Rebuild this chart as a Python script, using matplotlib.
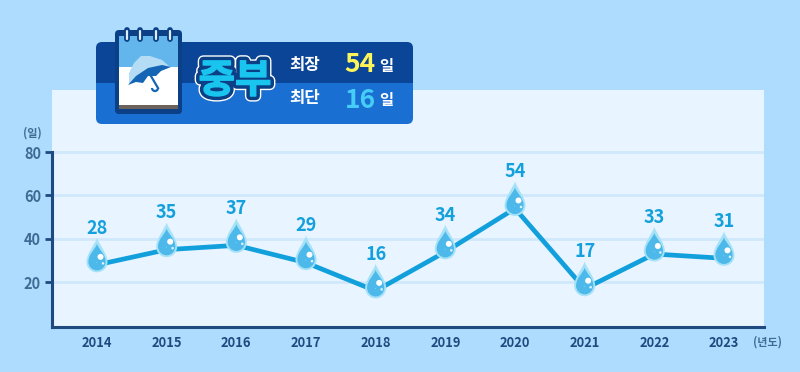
import numpy as np
import matplotlib
matplotlib.use('Agg')
import matplotlib.pyplot as plt
from matplotlib.path import Path
from matplotlib.patches import FancyBboxPatch, Rectangle, Polygon, Arc
from matplotlib.collections import PathCollection
from matplotlib.transforms import IdentityTransform, Affine2D
import matplotlib.patheffects as pe

plt.rcParams['font.family'] = ['Noto Sans CJK KR', 'DejaVu Sans']

years = [2014, 2015, 2016, 2017, 2018, 2019, 2020, 2021, 2022, 2023]
days = [28, 35, 37, 29, 16, 34, 54, 17, 33, 31]
yticks = [20, 40, 60, 80]
title = '중부'
long_label, long_val = '최장', '54'
short_label, short_val = '최단', '16'
unit = '일'
y_unit = '(일)'
x_unit = '(년도)'

W, H = 800, 372
BG = '#aedcff'
PANEL = '#e8f4ff'
GRID = '#cfe8fb'
AXIS = '#1f4a7f'
LINE = '#12a0dc'

fig = plt.figure(figsize=(W / 100, H / 100), dpi=100, facecolor=BG)

ax = fig.add_axes([52 / W, 1 - 327 / H, (764 - 52) / W, (327 - 90) / H], facecolor=PANEL, zorder=1)
ax.set_xlim(2014 - 45 / 69.67, 2023 + 40 / 69.67)
ax.set_ylim(-0.65, 108.6)
ax.spines['top'].set_visible(False)
ax.spines['right'].set_visible(False)
ax.spines['left'].set_color(AXIS)
ax.spines['bottom'].set_color(AXIS)
ax.spines['left'].set_linewidth(2.2)
ax.spines['bottom'].set_linewidth(2.2)
ax.spines['left'].set_bounds(-0.65, 80)
ax.set_yticks(yticks)
ax.set_xticks(years)
ax.set_xticklabels([str(y) for y in years], fontsize=9.3, fontweight='bold', color='#1f4a7f')
ax.set_yticklabels([str(v) for v in yticks], fontsize=10.5, fontweight='bold', color='#3f6a94')
ax.tick_params(axis='x', length=0, pad=6.5)
ax.tick_params(axis='y', length=5, width=2, color=AXIS, pad=3)
ax.grid(axis='y', color=GRID, lw=2)
ax.set_axisbelow(True)

ax.plot(years, days, color=LINE, lw=3.4, zorder=3, solid_joinstyle='round')

# water-drop markers, defined in pixels around each data point
def drop(r=10.5, cy=3.0, tip=27.0):
    k = 0.5523
    verts = [(0, tip), (1.8, tip - 6), (r, cy + 8), (r, cy),
             (r, cy - k * r), (k * r, cy - r), (0, cy - r),
             (-k * r, cy - r), (-r, cy - k * r), (-r, cy),
             (-r, cy + 8), (-1.8, tip - 6), (0, tip), (0, tip)]
    codes = [Path.MOVETO, Path.CURVE4, Path.CURVE4, Path.CURVE4,
             Path.CURVE4, Path.CURVE4, Path.CURVE4,
             Path.CURVE4, Path.CURVE4, Path.CURVE4,
             Path.CURVE4, Path.CURVE4, Path.CURVE4, Path.CLOSEPOLY]
    return Path(verts, codes)

def add_layer(path, color, z):
    offs = np.column_stack([years, days])
    c = PathCollection([path], offsets=offs, offset_transform=ax.transData,
                       transform=IdentityTransform(), facecolors=color, edgecolors='none', zorder=z)
    ax.add_collection(c, autolim=False)

add_layer(drop(10.5, 3, 27), '#a5e2f8', 4)
add_layer(drop(8.6, 3, 21), '#4db8ea', 5)
add_layer(Path.wedge(190, 290, 8).transformed(Affine2D().translate(0, 3)), '#86d4f4', 5.5)
add_layer(Path.circle((3.5, 8), 3.0), '#ffffff', 6)
add_layer(Path.circle((6, 1.5), 1.3), '#d8f3ff', 6)

for x, v in zip(years, days):
    ax.annotate(str(v), (x, v), xytext=(0, 26.5), textcoords='offset points', ha='center', va='center',
                fontsize=13, fontweight='bold', color='#14a0dc', zorder=7)

# overlay in pixel coordinates for unit labels and the title badge
ov = fig.add_axes([0, 0, 1, 1], facecolor='none', zorder=5)
ov.set_xlim(0, W)
ov.set_ylim(H, 0)
ov.axis('off')

ov.text(32, 133, y_unit, fontsize=8, fontweight='bold', color='#3f6a94', ha='center', va='center')
ov.text(767, 342, x_unit, fontsize=8, fontweight='bold', color='#3f6a94', ha='center', va='center')

# badge: rounded shape, split in two tones
lower = FancyBboxPatch((100, 50), 309, 70, boxstyle='round,pad=4,rounding_size=6', fc='#1a6fd2', ec='none', zorder=1)
upper = FancyBboxPatch((100, 46), 309, 70, boxstyle='round,pad=4,rounding_size=6', fc='#0a4597', ec='none', zorder=1)
ov.add_patch(lower)
ov.add_patch(upper)
upper.set_clip_path(Rectangle((90, 35), 330, 48, transform=ov.transData))

# calendar icon
ov.add_patch(FancyBboxPatch((118, 33), 61, 78, boxstyle='round,pad=3,rounding_size=4', fc='#0b3f86', ec='none', zorder=2))
ov.add_patch(Rectangle((119, 36), 59, 32, fc='#62b6ec', ec='none', zorder=3))
ov.add_patch(Rectangle((119, 67), 59, 38, fc='#ffffff', ec='none', zorder=3))
ov.add_patch(Rectangle((119, 105), 59, 4, fc='#6b625e', ec='none', zorder=3))
for rx in (127, 140, 156, 170):
    ov.plot([rx, rx], [30, 39], color='#0b3f86', lw=4.2, solid_capstyle='round', zorder=4)
    ov.plot([rx, rx], [31, 39], color='#dfeefa', lw=1.6, solid_capstyle='round', zorder=5)

# umbrella
ov.add_patch(Polygon([(129, 85), (129, 73), (134, 63), (141, 56), (150, 56), (162, 60), (170, 67), (160, 68), (150, 70), (140, 75)],
                     fc='#b5dcf5', ec='none', zorder=4))
ov.add_patch(Polygon([(128, 85), (136, 82), (143, 83), (148, 76), (156, 76), (161, 71), (171, 67), (162, 65), (148, 68), (136, 76)],
                     fc='#1565b5', ec='none', zorder=5))
ov.plot([148, 158], [71, 88], color='#1565b5', lw=1.6, zorder=5)
ov.add_patch(Arc((155, 88), 6, 6, theta1=0, theta2=180, ec='#1565b5', lw=1.6, zorder=5))

# title
ov.text(235, 81, title, fontsize=28.5, fontweight='black', color='#19c4ee', ha='center', va='center', zorder=6,
        path_effects=[pe.withStroke(linewidth=8, foreground='#ffffff'),
                      pe.withStroke(linewidth=6, foreground='#0b3f86'),
                      pe.withStroke(linewidth=1, foreground='#19c4ee')])

ov.text(305, 65, long_label, fontsize=12, fontweight='bold', color='white', ha='center', va='center', zorder=6)
ov.text(305, 98, short_label, fontsize=12, fontweight='bold', color='white', ha='center', va='center', zorder=6)
ov.text(360, 64, long_val, fontsize=19, fontweight='bold', color='#fdf65a', ha='center', va='center', zorder=6)
ov.text(360, 100, short_val, fontsize=19, fontweight='bold', color='#45cdf7', ha='center', va='center', zorder=6)
ov.text(386, 66, unit, fontsize=11, fontweight='bold', color='white', ha='center', va='center', zorder=6)
ov.text(386, 100, unit, fontsize=11, fontweight='bold', color='white', ha='center', va='center', zorder=6)

fig.savefig('out.png', dpi=100, facecolor=BG)
